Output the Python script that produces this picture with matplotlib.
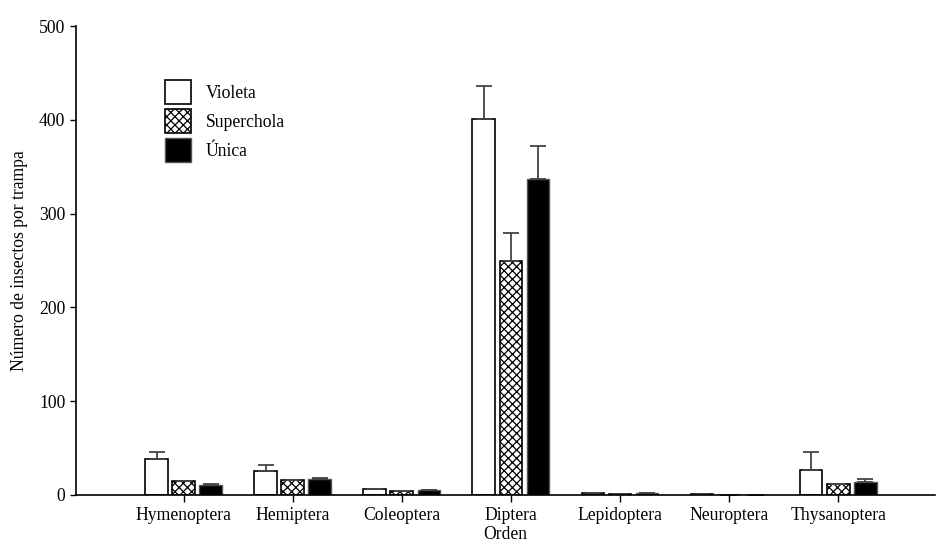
import numpy as np
import matplotlib.pyplot as plt

plt.rcParams['font.family'] = ['Liberation Serif', 'DejaVu Serif']
plt.rcParams['hatch.linewidth'] = 0.9

ordenes = ['Hymenoptera', 'Hemiptera', 'Coleoptera', 'Diptera',
           'Lepidoptera', 'Neuroptera', 'Thysanoptera']
trampas = ['Violeta', 'Superchola', 'Única']

violeta = [38.4, 25.6, 6.0, 400.8, 1.5, 1.0, 26.7]
violeta_err = [7.4, 6.7, 0.0, 35.2, 0.0, 0.0, 19.1]
superchola = [15.3, 16.3, 4.0, 249.5, 0.5, 0.0, 11.7]
superchola_err = [0.0, 0.0, 0.0, 29.8, 0.0, 0.0, 0.0]
unica = [10.7, 17.4, 5.7, 336.9, 2.0, 0.0, 13.5]
unica_err = [0.8, 1.1, 0.0, 34.9, 0.0, 0.0, 3.9]

x = np.arange(len(ordenes))
w = 0.21
d = 0.248
fs = 12.7

fig = plt.figure(figsize=(9.37, 5.45), dpi=100)
ax = fig.add_axes([0.081, 0.092, 0.917, 0.86])

ek = dict(ecolor='#444444', elinewidth=1.3, capsize=6, capthick=1.3)
ax.bar(x - d, violeta, w, yerr=[np.zeros(7), violeta_err], color='white',
       edgecolor='black', linewidth=1.2, label=trampas[0], error_kw=ek)
ax.bar(x, superchola, w, yerr=[np.zeros(7), superchola_err], color='white',
       edgecolor='black', hatch='xxxx', linewidth=1.2, label=trampas[1], error_kw=ek)
ax.bar(x + d, unica, w, yerr=[np.zeros(7), unica_err], color='black',
       edgecolor='#555555', linewidth=1.0, label=trampas[2], error_kw=ek)

ax.set_xlim(-0.99, 6.89)
ax.set_ylim(0, 500)
ax.set_yticks([0, 100, 200, 300, 400, 500])
ax.set_xticks(x)
ax.set_xticklabels(ordenes)
ax.tick_params(axis='both', direction='out', length=4, width=1, labelsize=fs)
ax.tick_params(axis='x', length=5, pad=4)
ax.spines['top'].set_visible(False)
ax.spines['right'].set_visible(False)
ax.spines['left'].set_linewidth(1.2)
ax.spines['bottom'].set_linewidth(1.2)
ax.set_xlabel('Orden', fontsize=fs, labelpad=1)
ax.set_ylabel('Número de insectos por trampa', fontsize=fs, labelpad=8)

ax.legend(loc='upper left', bbox_to_anchor=(0.104, 0.885), frameon=False,
          fontsize=fs, handlelength=1.45, handleheight=1.7, handletextpad=0.85,
          labelspacing=0.3, borderpad=0, borderaxespad=0)

fig.savefig('out.png', dpi=100)
